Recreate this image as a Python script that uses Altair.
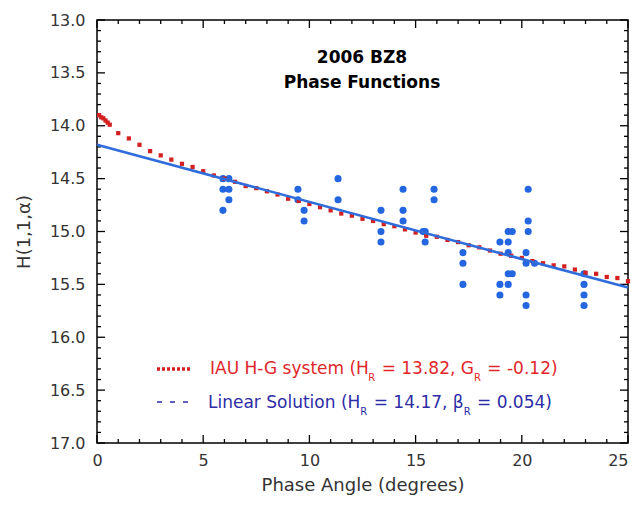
import altair as alt
import pandas as pd

# ---------------- data ----------------
obs_alpha = [5.93, 5.93, 5.93, 6.21, 6.21, 6.21,
             9.46, 9.46, 9.75, 9.75,
             11.35, 11.35,
             13.37, 13.37, 13.37,
             14.41, 14.41, 14.41,
             15.35, 15.45, 15.45,
             15.87, 15.87,
             17.23, 17.23, 17.23,
             18.97, 18.97, 18.97,
             19.36, 19.55, 19.36, 19.36, 19.36, 19.55, 19.36,
             20.3, 20.3, 20.3, 20.2, 20.2, 20.6, 20.2, 20.2,
             22.93, 22.93, 22.93, 22.93]
obs_mag = [14.5, 14.6, 14.8, 14.5, 14.6, 14.7,
           14.6, 14.7, 14.8, 14.9,
           14.5, 14.7,
           14.8, 15.0, 15.1,
           14.6, 14.8, 14.9,
           15.0, 15.0, 15.1,
           14.6, 14.7,
           15.2, 15.3, 15.5,
           15.1, 15.5, 15.6,
           15.0, 15.0, 15.1, 15.2, 15.4, 15.4, 15.5,
           14.6, 14.9, 15.0, 15.2, 15.3, 15.3, 15.6, 15.7,
           15.4, 15.5, 15.6, 15.7]

hg_alpha = [0.1, 0.2, 0.3, 0.4, 0.5, 0.6,
            1.0, 1.5, 2.0, 2.5, 3.0, 3.5, 4.0, 4.5, 5.0, 5.5, 6.0, 6.5, 7.0, 7.5,
            8.0, 8.5, 9.0, 9.5, 10.0, 10.5, 11.0, 11.5, 12.0, 12.5, 13.0, 13.5,
            14.0, 14.5, 15.0, 15.5, 16.0, 16.5, 17.0, 17.5, 18.0, 18.5, 19.0, 19.5,
            20.0, 20.5, 21.0, 21.5, 22.0, 22.5, 23.0, 23.5, 24.0, 24.5, 25.0]
hg_mag = [13.90, 13.92, 13.93, 13.95, 13.97, 13.99,
          14.07, 14.12, 14.18, 14.24, 14.28, 14.32, 14.36, 14.39, 14.43, 14.47, 14.50, 14.53, 14.57, 14.59,
          14.62, 14.65, 14.69, 14.71, 14.74, 14.77, 14.80, 14.83, 14.85, 14.88, 14.90, 14.93,
          14.95, 14.98, 15.01, 15.04, 15.05, 15.08, 15.10, 15.13, 15.15, 15.18, 15.21, 15.23,
          15.25, 15.28, 15.30, 15.32, 15.33, 15.36, 15.39, 15.40, 15.43, 15.44, 15.47]

lin_alpha = [0.0, 25.0]
lin_mag = [14.18, 15.53]

x_major = [0, 5, 10, 15, 20, 25]
x_minor = [v for v in range(0, 26) if v % 5 != 0]
y_major = [13.0, 13.5, 14.0, 14.5, 15.0, 15.5, 16.0, 16.5, 17.0]
y_minor = [round(13 + 0.1 * i, 1) for i in range(41) if i % 5 != 0]

title_lines = ["2006 BZ8", "Phase Functions"]
legend1 = ["IAU H-G system (H", "R", "= 13.82, G", "R", "= -0.12)"]
legend2 = ["Linear Solution (H", "R", "= 14.17, β", "R", "= 0.054)"]

# ---------------- styling ----------------
W, H = 531, 423
FONT = "DejaVu Sans"
RED = "#d42020"
RED_TXT = "#e0262a"
BLUE = "#2366e0"
BLUE_TXT = "#2c2ca6"

obs = pd.DataFrame({"alpha": obs_alpha, "mag": obs_mag})
hg = pd.DataFrame({"alpha": hg_alpha, "mag": hg_mag})
lin = pd.DataFrame({"alpha": lin_alpha, "mag": lin_mag})

xs = alt.Scale(domain=[0, 25], nice=False, zero=False)
ys = alt.Scale(domain=[13, 17], reverse=True, nice=False, zero=False)

axA_x = alt.Axis(orient="bottom", values=x_major, ticks=False, domain=False, grid=False,
                 labelFont=FONT, labelFontSize=16, labelColor="#333", labelPadding=9,
                 labelAlign={"condition": {"test": "datum.value >= 25", "value": "right"},
                             "value": "center"},
                 labelFlush=False, title="Phase Angle (degrees)", titleFont=FONT,
                 titleFontSize=18, titleFontWeight="normal", titleColor="#333", titlePadding=8)
axA_y = alt.Axis(orient="left", values=y_major, format=".1f", ticks=False, domain=False, grid=False,
                 labelFont=FONT, labelFontSize=16, labelColor="#333", labelPadding=12,
                 labelFlush=False, title="H(1,1,α)", titleFont=FONT, titleFontSize=18,
                 titleFontWeight="normal", titleColor="#333", titlePadding=16)

points = alt.Chart(obs).mark_circle(size=50, color=BLUE, opacity=1).encode(
    x=alt.X("alpha:Q", scale=xs, axis=axA_x),
    y=alt.Y("mag:Q", scale=ys, axis=axA_y),
)
hg_layer = alt.Chart(hg).mark_square(size=18, color=RED, opacity=1).encode(
    x=alt.X("alpha:Q", scale=xs),
    y=alt.Y("mag:Q", scale=ys),
)
lin_layer = alt.Chart(lin).mark_line(color="#2f6ddb", strokeWidth=2.6).encode(
    x=alt.X("alpha:Q", scale=xs),
    y=alt.Y("mag:Q", scale=ys),
)


# inward ticks on all four sides
def xticks(vals, length):
    df = pd.DataFrame({"alpha": vals})
    b = alt.Chart(df).mark_rule(color="black", strokeWidth=1.3).encode(
        x=alt.X("alpha:Q", scale=xs), y=alt.value(H), y2=alt.value(H - length))
    t = alt.Chart(df).mark_rule(color="black", strokeWidth=1.3).encode(
        x=alt.X("alpha:Q", scale=xs), y=alt.value(0), y2=alt.value(length))
    return [b, t]


def yticks(vals, length):
    df = pd.DataFrame({"mag": vals})
    l = alt.Chart(df).mark_rule(color="black", strokeWidth=1.3).encode(
        y=alt.Y("mag:Q", scale=ys), x=alt.value(0), x2=alt.value(length))
    r = alt.Chart(df).mark_rule(color="black", strokeWidth=1.3).encode(
        y=alt.Y("mag:Q", scale=ys), x=alt.value(W), x2=alt.value(W - length))
    return [l, r]


tick_layers = xticks(x_major, 8) + xticks(x_minor, 4) + yticks(y_major, 8) + yticks(y_minor, 4)

# title inside plot
title_layers = [
    alt.Chart(pd.DataFrame({"t": [title_lines[i]]})).mark_text(
        font=FONT, fontSize=17, fontWeight="bold", color="black", align="center", baseline="alphabetic"
    ).encode(text="t:N", x=alt.value(265), y=alt.value(43 + 25 * i))
    for i in range(2)
]

# legend built from text segments (approximate DejaVu Sans advance widths)
ADV = {" ": .318, "(": .390, ")": .390, ",": .318, "-": .361, ".": .318, "=": .838,
       "A": .684, "G": .776, "H": .752, "I": .295, "L": .557, "R": .695, "S": .635, "U": .732,
       "a": .613, "c": .550, "e": .615, "i": .278, "l": .278, "m": .974, "n": .634, "o": .612,
       "r": .411, "s": .521, "t": .392, "u": .634, "y": .592, "β": .637}
for d in "0123456789":
    ADV[d] = .636


def tw(s, size):
    return sum(ADV.get(c, .6) for c in s) * size


LF, SF = 17, 10


def legend_row(segs, x0, base, color):
    layers = []
    x = x0
    for k, s in enumerate(segs):
        sub = (k % 2 == 1)
        size = SF if sub else LF
        if k > 0 and not sub:
            x += tw(" ", LF)
        layers.append(
            alt.Chart(pd.DataFrame({"t": [s]})).mark_text(
                font=FONT, fontSize=size, color=color, align="left", baseline="alphabetic"
            ).encode(text="t:N", x=alt.value(x), y=alt.value(base + (7 if sub else 0)))
        )
        x += tw(s, size) + (1 if sub else 0)
    return layers


leg_layers = legend_row(legend1, 113, 354, RED_TXT) + legend_row(legend2, 111, 388, BLUE_TXT)

sym_red = alt.Chart(pd.DataFrame({"a": [0]})).mark_rule(
    color=RED, strokeWidth=3.5, strokeDash=[3, 2]
).encode(x=alt.value(60), x2=alt.value(94), y=alt.value(349))
sym_blue = alt.Chart(pd.DataFrame({"a": [0]})).mark_rule(
    color=BLUE_TXT, strokeWidth=1.5, strokeDash=[5, 8]
).encode(x=alt.value(60), x2=alt.value(94), y=alt.value(382))

chart = alt.layer(
    points, *tick_layers, hg_layer, lin_layer, *title_layers, *leg_layers, sym_red, sym_blue
).properties(
    width=W, height=H,
    padding={"left": 89, "top": 12, "right": 3, "bottom": 55},
    autosize=alt.AutoSizeParams(type="none"),
).configure_view(stroke="black", strokeWidth=1.5)

chart.save("out.html", embed_options={"renderer": "svg", "actions": False})
